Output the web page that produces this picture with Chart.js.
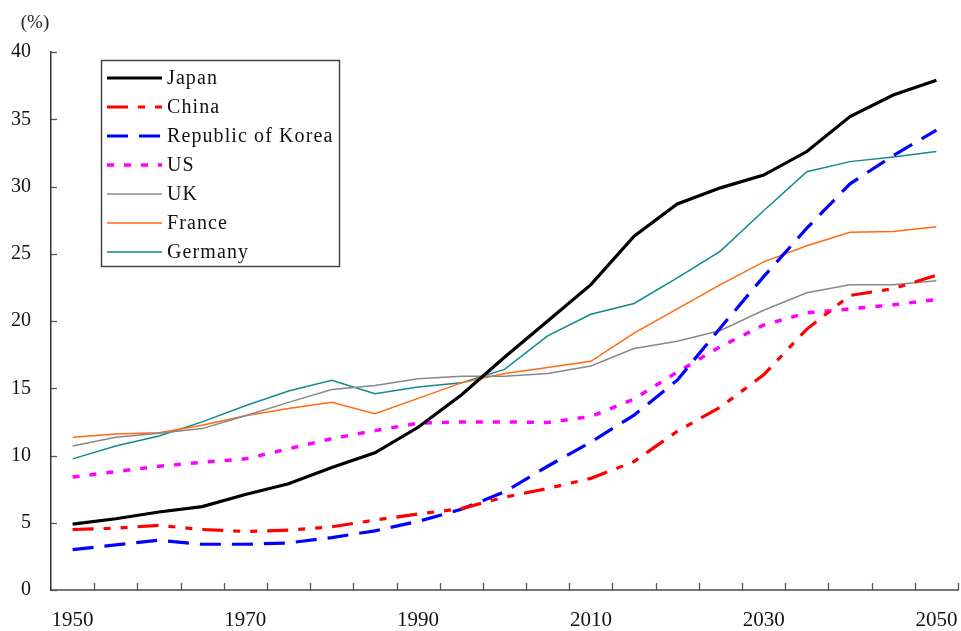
<!DOCTYPE html>
<html><head><meta charset="utf-8">
<script src="https://cdn.jsdelivr.net/npm/chart.js@4"></script>
<style>html,body{margin:0;padding:0;background:#fff}#wrap{width:961px;height:631px}</style>
</head><body><div id="wrap"><canvas id="c" width="961" height="631"></canvas></div>
<script>
// ---- data ----
const years = [1950,1955,1960,1965,1970,1975,1980,1985,1990,1995,2000,2005,2010,2015,2020,2025,2030,2035,2040,2045,2050];
const shownYears = [1950,1970,1990,2010,2030,2050];
const yTickValues = [0,5,10,15,20,25,30,35,40];
const seriesNames = ['Japan','China','Republic of Korea','US','UK','France','Germany'];
const japan   = [4.9,5.3,5.8,6.2,7.1,7.9,9.1,10.2,12.1,14.5,17.3,20.0,22.7,26.3,28.7,29.9,30.85,32.6,35.2,36.8,37.9];
const china   = [4.5,4.6,4.8,4.5,4.35,4.45,4.7,5.2,5.65,6.05,6.9,7.55,8.3,9.55,11.8,13.6,16.0,19.4,21.9,22.4,23.4];
const korea   = [3.0,3.35,3.7,3.4,3.4,3.5,3.9,4.4,5.1,6.0,7.3,9.2,11.0,13.0,15.6,19.5,23.3,26.9,30.2,32.3,34.2];
const us      = [8.4,8.8,9.2,9.5,9.75,10.5,11.25,11.85,12.4,12.5,12.5,12.45,12.9,14.2,16.2,18.1,19.7,20.6,20.9,21.2,21.6];
const uk      = [10.7,11.35,11.65,12.0,12.95,13.95,14.9,15.2,15.7,15.9,15.9,16.1,16.65,17.95,18.5,19.3,20.8,22.1,22.7,22.7,23.0];
const france  = [11.35,11.6,11.7,12.25,12.95,13.5,13.95,13.1,14.25,15.4,16.1,16.55,17.0,19.1,20.9,22.7,24.4,25.6,26.6,26.65,27.0];
const germany = [9.75,10.7,11.45,12.5,13.7,14.8,15.6,14.6,15.1,15.4,16.4,18.9,20.5,21.3,23.2,25.2,28.2,31.1,31.85,32.2,32.6];

const FONT = "'Liberation Serif', 'Times New Roman', serif";

const axisMarks = {
  id: 'axisMarks',
  afterDraw(chart) {
    const ctx = chart.ctx, xs = chart.scales.x, ys = chart.scales.y, a = chart.chartArea;
    ctx.save();
    ctx.strokeStyle = '#555';
    ctx.lineWidth = 1.3;
    const n = xs.getLabels().length;
    const w = xs.getPixelForValue(1) - xs.getPixelForValue(0);
    for (let i = 1; i <= n; i++) {
      const px = Math.round(xs.getPixelForValue(i) - w / 2) + 0.5;
      ctx.beginPath(); ctx.moveTo(px, a.bottom); ctx.lineTo(px, a.bottom - 7); ctx.stroke();
    }
    ys.ticks.forEach(t => {
      const py = Math.round(ys.getPixelForValue(t.value)) + 0.5;
      ctx.beginPath(); ctx.moveTo(a.left, py); ctx.lineTo(a.left + 6, py); ctx.stroke();
    });
    // unit label
    ctx.fillStyle = '#222';
    ctx.font = "19px " + FONT;
    ctx.textAlign = 'center';
    ctx.textBaseline = 'middle';
    ctx.fillText('(%)', 35, 23);
    ctx.restore();
  }
};

const boxLegend = {
  id: 'boxLegend',
  afterDatasetsDraw(chart) {
    const ctx = chart.ctx;
    const x0 = 101, y0 = 60, x1 = 339, y1 = 266;
    ctx.save();
    ctx.fillStyle = '#fff';
    ctx.fillRect(x0, y0, x1 - x0, y1 - y0);
    ctx.strokeStyle = '#444';
    ctx.lineWidth = 1.5;
    ctx.strokeRect(x0 + 0.5, y0 + 0.5, x1 - x0, y1 - y0);
    ctx.font = "20px " + FONT;
    ctx.textBaseline = 'middle';
    ctx.textAlign = 'left';
    chart.data.datasets.forEach((ds, i) => {
      const cy = 78 + i * 29;
      ctx.save();
      ctx.strokeStyle = ds.borderColor;
      ctx.lineWidth = ds.borderWidth;
      ctx.setLineDash(ds.borderDash || []);
      ctx.beginPath(); ctx.moveTo(107, cy); ctx.lineTo(162, cy); ctx.stroke();
      ctx.restore();
      ctx.fillStyle = '#111';
      if ('letterSpacing' in ctx) ctx.letterSpacing = '1.1px';
      ctx.fillText(ds.label, 167, cy + 1);
    });
    ctx.restore();
  }
};

const seriesData = [japan, china, korea, us, uk, france, germany];
const styles = [
  {borderColor:'#000000', borderWidth:3.2, borderDash:[]},
  {borderColor:'#ff0000', borderWidth:3.2, borderDash:[21,10,7,10,7,10]},
  {borderColor:'#0000ff', borderWidth:3.2, borderDash:[21,11]},
  {borderColor:'#ff00ff', borderWidth:3.5, borderDash:[7,10]},
  {borderColor:'#888888', borderWidth:1.5, borderDash:[]},
  {borderColor:'#ff6a10', borderWidth:1.5, borderDash:[]},
  {borderColor:'#108a8a', borderWidth:1.5, borderDash:[]}
];

new Chart(document.getElementById('c'), {
  type: 'line',
  data: {
    labels: years.map(String),
    datasets: seriesNames.map((name, i) => Object.assign({
      label: name,
      data: seriesData[i],
      pointRadius: 0,
      tension: 0,
      fill: false
    }, styles[i]))
  },
  options: {
    responsive: false,
    animation: false,
    devicePixelRatio: 1,
    layout: {padding: {top: 52, right: 3, left: 0, bottom: 0}},
    plugins: {legend: {display: false}, tooltip: {enabled: false}},
    scales: {
      x: {
        type: 'category',
        offset: true,
        afterFit(s) { s.height = 41; s.paddingLeft = 0; s.paddingRight = 0; },
        grid: {display: false, drawTicks: false, offset: true},
        border: {display: true, color: '#777', width: 2},
        ticks: {
          autoSkip: false, maxRotation: 0, padding: 18, color: '#111',
          font: {family: FONT, size: 21},
          callback(v, i) { const y = years[i]; return shownYears.includes(y) ? String(y) : ''; }
        }
      },
      y: {
        min: 0, max: 40,
        afterFit(s) { s.width = 51; s.paddingTop = 0; s.paddingBottom = 0; },
        afterBuildTicks(s) { s.ticks = yTickValues.map(v => ({value: v})); },
        grid: {display: false, drawTicks: false},
        border: {display: true, color: '#333', width: 1.5},
        ticks: {padding: 20, color: '#111', font: {family: FONT, size: 20}}
      }
    }
  },
  plugins: [axisMarks, boxLegend]
});
</script>
</body></html>
